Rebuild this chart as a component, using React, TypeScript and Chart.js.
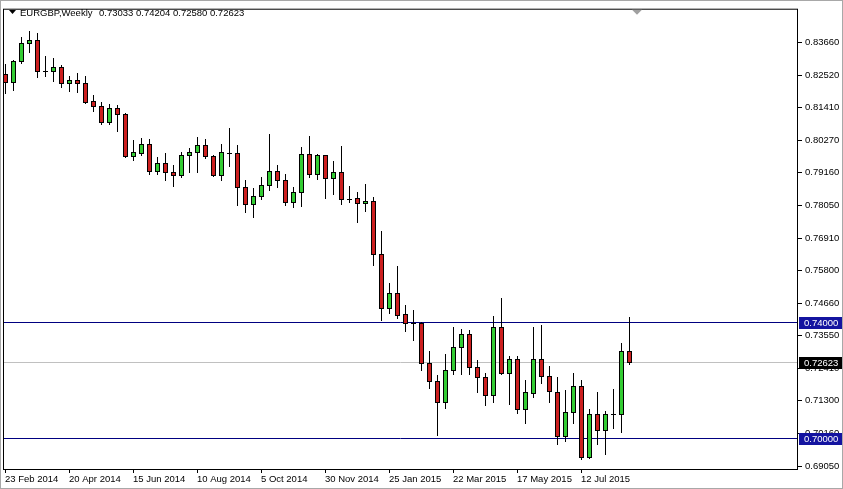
import React, { useEffect, useRef } from "react";
import { Chart, registerables } from "chart.js";

Chart.register(...registerables);

const opens = [
  0.8257, 0.8230, 0.8301, 0.8363, 0.8373, 0.8268, 0.8267, 0.8281, 0.8226, 0.8236,
  0.8226, 0.8165, 0.8148, 0.8090, 0.8141, 0.8120, 0.7974, 0.7984, 0.8014, 0.7922,
  0.7950, 0.7919, 0.7909, 0.7977, 0.7987, 0.8011, 0.7974, 0.7909, 0.7984, 0.7984,
  0.7868, 0.7810, 0.7837, 0.7874, 0.7922, 0.7892, 0.7817, 0.7851, 0.7980, 0.7912,
  0.7977, 0.7898, 0.7919, 0.7827, 0.7830, 0.7813, 0.7820, 0.7636, 0.7451, 0.7502,
  0.7431, 0.7397, 0.7397, 0.7260, 0.7199, 0.7127, 0.7236, 0.7315, 0.7362, 0.7246,
  0.7212, 0.7151, 0.7383, 0.7226, 0.7274, 0.7100, 0.7158, 0.7274, 0.7216, 0.7161,
  0.7007, 0.7093, 0.7182, 0.6936, 0.7086, 0.7028, 0.7083, 0.7083, 0.73033,
];
const highs = [
  0.8291, 0.8305, 0.8383, 0.8404, 0.8397, 0.8318, 0.8311, 0.8288, 0.8250, 0.8260,
  0.8250, 0.8185, 0.8161, 0.8154, 0.8151, 0.8124, 0.8028, 0.8035, 0.8032, 0.7970,
  0.7984, 0.7943, 0.7987, 0.8001, 0.8038, 0.8032, 0.7977, 0.8014, 0.8069, 0.8011,
  0.7892, 0.7864, 0.7902, 0.8049, 0.7943, 0.7912, 0.7868, 0.8004, 0.8042, 0.7980,
  0.7978, 0.7956, 0.8008, 0.7871, 0.7851, 0.7878, 0.7834, 0.7714, 0.7537, 0.7595,
  0.7461, 0.7444, 0.7400, 0.7301, 0.7219, 0.7291, 0.7386, 0.7376, 0.7373, 0.7270,
  0.7226, 0.7421, 0.7485, 0.7284, 0.7284, 0.7202, 0.7386, 0.7390, 0.7250, 0.7212,
  0.7168, 0.7226, 0.7202, 0.7103, 0.7161, 0.7096, 0.7171, 0.7328, 0.74204,
];
const lows = [
  0.8192, 0.8202, 0.8294, 0.8332, 0.8247, 0.8250, 0.8233, 0.8212, 0.8199, 0.8195,
  0.8158, 0.8131, 0.8083, 0.8083, 0.8062, 0.7970, 0.7960, 0.7977, 0.7912, 0.7912,
  0.7892, 0.7871, 0.7902, 0.7919, 0.7919, 0.7967, 0.7905, 0.7892, 0.7939, 0.7806,
  0.7782, 0.7765, 0.7827, 0.7857, 0.7868, 0.7806, 0.7799, 0.7803, 0.7902, 0.7895,
  0.7830, 0.7844, 0.7810, 0.7817, 0.7748, 0.7786, 0.7598, 0.7407, 0.7434, 0.7414,
  0.7369, 0.7339, 0.7236, 0.7175, 0.7011, 0.7106, 0.7223, 0.7223, 0.7223, 0.7161,
  0.7117, 0.7127, 0.7223, 0.7120, 0.7089, 0.7055, 0.7144, 0.7192, 0.7127, 0.6980,
  0.6990, 0.7055, 0.6929, 0.6934, 0.6980, 0.6946, 0.7035, 0.7024, 0.72580,
];
const closes = [
  0.8230, 0.8301, 0.8363, 0.8373, 0.8267, 0.8267, 0.8281, 0.8226, 0.8236, 0.8226,
  0.8161, 0.8148, 0.8090, 0.8141, 0.8120, 0.7974, 0.7987, 0.8014, 0.7922, 0.7950,
  0.7919, 0.7909, 0.7977, 0.7987, 0.8011, 0.7974, 0.7909, 0.7987, 0.7983, 0.7868,
  0.7810, 0.7837, 0.7874, 0.7922, 0.7892, 0.7817, 0.7851, 0.7980, 0.7912, 0.7977,
  0.7898, 0.7919, 0.7827, 0.7826, 0.7813, 0.7820, 0.7636, 0.7451, 0.7502, 0.7427,
  0.7397, 0.7398, 0.7260, 0.7199, 0.7127, 0.7236, 0.7315, 0.7362, 0.7246, 0.7212,
  0.7151, 0.7383, 0.7226, 0.7274, 0.7100, 0.7161, 0.7274, 0.7216, 0.7164, 0.7007,
  0.7093, 0.7182, 0.6936, 0.7086, 0.7028, 0.7083, 0.7084, 0.7303, 0.72623,
];

const dateLabels = [
  "23 Feb 2014", "20 Apr 2014", "15 Jun 2014", "10 Aug 2014", "5 Oct 2014",
  "30 Nov 2014", "25 Jan 2015", "22 Mar 2015", "17 May 2015", "12 Jul 2015",
];
const dateTickIndex = [0, 8, 16, 24, 32, 40, 48, 56, 64, 72];
const priceTicks = [
  0.8366, 0.8252, 0.8141, 0.8027, 0.7916, 0.7805, 0.7691, 0.758, 0.7466,
  0.7355, 0.7241, 0.713, 0.7016, 0.6905,
];
const levelLines = [0.74, 0.7];
const lastPrice = 0.72623;
const symbolTitle = "EURGBP,Weekly";
const titleValues = "0.73033 0.74204 0.72580 0.72623";
const shiftMarkerIndex = 79;

const FONT = "'Liberation Sans', Arial, sans-serif";
const FS = 9.5;
const BULL = "#33cc33";
const BEAR = "#cc1f1f";
const LEVEL = "#000080";
const LEVEL_BOX = "#1414a0";

export default function App() {
  const ref = useRef<HTMLCanvasElement>(null);

  useEffect(() => {
    const canvas = ref.current!;
    const mt4Plugin = {
      id: "mt4",
      beforeDraw(chart: any) {
        const { ctx, width, height } = chart;
        ctx.save();
        ctx.fillStyle = "#ffffff";
        ctx.fillRect(0, 0, width, height);
        ctx.restore();
      },
      beforeDatasetsDraw(chart: any) {
        const { ctx, chartArea: ca } = chart;
        const xs = chart.scales.x;
        const ys = chart.scales.y;
        ctx.save();
        ctx.beginPath();
        ctx.rect(ca.left, ca.top, ca.right - ca.left, ca.bottom - ca.top);
        ctx.clip();
        const hline = (v: number, color: string) => {
          const py = Math.round(ys.getPixelForValue(v)) + 0.5;
          ctx.strokeStyle = color;
          ctx.lineWidth = 1;
          ctx.beginPath();
          ctx.moveTo(ca.left - 1, py);
          ctx.lineTo(ca.right, py);
          ctx.stroke();
        };
        hline(lastPrice, "#c0c0c0");
        levelLines.forEach((v) => hline(v, LEVEL));

        for (let i = 0; i < opens.length; i++) {
          const cx = Math.round(xs.getPixelForValue(i));
          const yH = Math.round(ys.getPixelForValue(highs[i]));
          const yL = Math.round(ys.getPixelForValue(lows[i]));
          const yO = ys.getPixelForValue(opens[i]);
          const yC = ys.getPixelForValue(closes[i]);
          ctx.fillStyle = "#000";
          ctx.fillRect(cx, yH, 1, yL - yH + 1);
          const top = Math.round(Math.min(yO, yC));
          const bot = Math.round(Math.max(yO, yC));
          if (Math.abs(yO - yC) < 1 || bot - top < 1) {
            ctx.fillStyle = "#000";
            ctx.fillRect(cx - 2, top, 5, 1);
          } else {
            ctx.fillStyle = closes[i] >= opens[i] ? BULL : BEAR;
            ctx.fillRect(cx - 2, top, 5, bot - top + 1);
            ctx.strokeStyle = "#000";
            ctx.lineWidth = 1;
            ctx.strokeRect(cx - 1.5, top + 0.5, 4, bot - top);
          }
        }
        ctx.restore();
      },
      afterDraw(chart: any) {
        const { ctx, chartArea: ca, width, height } = chart;
        const xs = chart.scales.x;
        const ys = chart.scales.y;
        ctx.save();
        ctx.strokeStyle = "#a8a8a8";
        ctx.lineWidth = 1;
        ctx.strokeRect(0.5, 0.5, width - 1, height - 1);
        ctx.strokeStyle = "#000";
        ctx.strokeRect(ca.left - 0.5, ca.top + 0.5, ca.right - ca.left, ca.bottom - ca.top);
        ctx.fillStyle = "#000";
        ctx.beginPath();
        ctx.moveTo(9, 10);
        ctx.lineTo(16, 10);
        ctx.lineTo(12.5, 14);
        ctx.closePath();
        ctx.fill();
        ctx.font = `${FS}px ${FONT}`;
        ctx.textBaseline = "middle";
        ctx.textAlign = "left";
        ctx.fillText(symbolTitle, 20, 13);
        ctx.fillText(titleValues, 99, 13);
        const sx = Math.round(xs.getPixelForValue(shiftMarkerIndex));
        ctx.fillStyle = "#a0a0a0";
        ctx.beginPath();
        ctx.moveTo(sx - 5, ca.top + 1);
        ctx.lineTo(sx + 5, ca.top + 1);
        ctx.lineTo(sx, ca.top + 6);
        ctx.closePath();
        ctx.fill();
        const box = (v: number, bg: string) => {
          const py = Math.round(ys.getPixelForValue(v));
          ctx.fillStyle = bg;
          ctx.fillRect(ca.right + 1, py - 5, width - ca.right - 2, 12);
          ctx.fillStyle = "#fff";
          ctx.font = `${FS}px ${FONT}`;
          ctx.textBaseline = "middle";
          ctx.fillText(v.toFixed(5), ca.right + 6, py + 1);
        };
        levelLines.forEach((v) => box(v, LEVEL_BOX));
        box(lastPrice, "#000000");
        ctx.restore();
      },
    };

    const chart = new Chart(canvas, {
      type: "scatter",
      data: {
        datasets: [
          {
            data: closes.map((c, i) => ({ x: i, y: c })),
            pointRadius: 0,
            pointHoverRadius: 0,
            showLine: false,
          },
        ],
      },
      options: {
        responsive: false,
        animation: false,
        devicePixelRatio: 1,
        events: [],
        layout: { padding: { left: 4, top: 4, right: 0, bottom: 0 } },
        plugins: { legend: { display: false }, tooltip: { enabled: false } },
        scales: {
          x: {
            type: "linear",
            position: "bottom",
            min: -0.125,
            max: 99.125,
            afterBuildTicks: (s: any) => {
              s.ticks = dateTickIndex.map((v) => ({ value: v }));
            },
            afterFit: (s: any) => {
              s.height = 20;
            },
            ticks: {
              autoSkip: false,
              maxRotation: 0,
              minRotation: 0,
              align: "start",
              padding: 1,
              color: "#000",
              font: { size: FS, family: FONT },
              callback: (_v: any, i: number) => dateLabels[i],
            },
            grid: { drawOnChartArea: false, drawTicks: true, tickLength: 4, color: "#000" },
            border: { display: false },
          },
          y: {
            type: "linear",
            position: "right",
            min: 0.68948,
            max: 0.84821,
            afterBuildTicks: (s: any) => {
              s.ticks = priceTicks.map((v) => ({ value: v }));
            },
            afterFit: (s: any) => {
              s.width = 45;
            },
            ticks: {
              padding: 3,
              color: "#000",
              font: { size: FS, family: FONT },
              callback: (v: any) => Number(v).toFixed(5),
            },
            grid: { drawOnChartArea: false, drawTicks: true, tickLength: 4, color: "#000" },
            border: { display: false },
          },
        },
      } as any,
      plugins: [mt4Plugin],
    });
    return () => chart.destroy();
  }, []);

  return (
    <div style={{ position: "fixed", left: 0, top: 0, width: 843, height: 489, background: "#fff" }}>
      <canvas ref={ref} width={843} height={489} style={{ display: "block", width: 843, height: 489 }} />
    </div>
  );
}
